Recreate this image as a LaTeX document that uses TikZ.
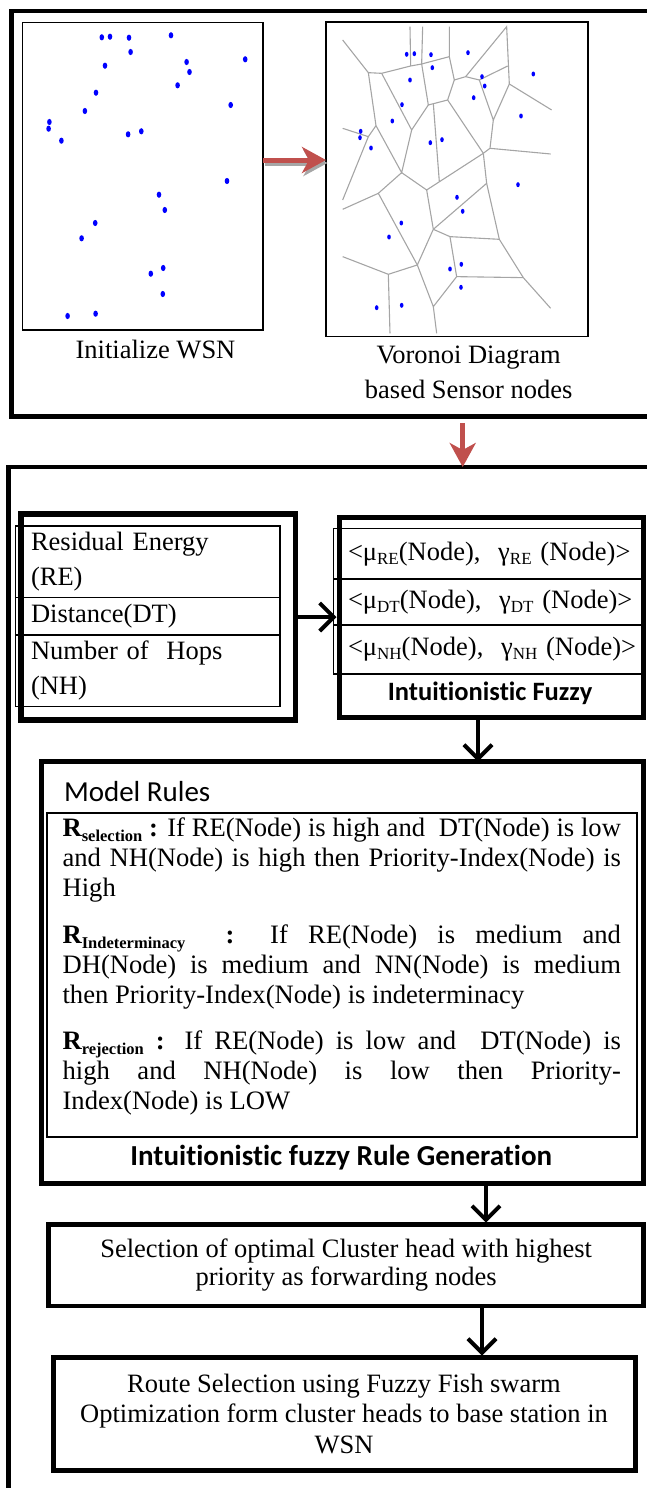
\documentclass[tikz,border=0pt]{standalone}
\usepackage{fontspec}
\setmainfont{Liberation Serif}
\newfontfamily\calibri[Ligatures=NoCommon]{Carlito}
\usetikzlibrary{arrows.meta}

\definecolor{arrowred}{RGB}{192,80,77}
\definecolor{sensorblue}{RGB}{0,0,255}
\definecolor{cellgray}{RGB}{165,165,165}

\newcommand{\lowsub}[1]{\raisebox{-4pt}{\fontsize{17}{17}\selectfont #1}}
\newcommand{\rulename}[1]{\textbf{R\raisebox{-5pt}{\fontsize{16.5}{17}\selectfont #1}}}

\begin{document}
\begin{tikzpicture}[x=1pt, y=-1pt,
    every node/.style={inner sep=0pt, outer sep=0pt, font=\fontsize{26.5}{35}\selectfont},
    frame/.style={draw, line width=4.7pt},
    imgbox/.style={draw, line width=1.5pt},
    thickbox/.style={draw, line width=5pt},
    cell/.style={draw, line width=1.3pt, minimum width=264.3pt, text width=233.7pt, inner xsep=15.3pt, align=left},
    fzcell/.style={draw, line width=1.3pt, minimum width=310.3pt, text width=281.7pt, inner xsep=14.3pt, align=left},
    redarrow/.style={line width=5pt, arrowred, -{Stealth[length=24pt, width=26pt, inset=7pt]}},
    redshadow/.style={line width=5pt, gray!70, -{Stealth[length=24pt, width=26pt, inset=7pt]}},
    blackarrow/.style={line width=4pt, -{Straight Barb[length=14pt, width=28pt]}}]
    \useasboundingbox (0,0) rectangle (646,1488);

    % Outer frames
    \node[frame, minimum width=640.3pt, minimum height=405.5pt] (top) at (331.85,213.75) {};
    \node[frame, line width=4.5pt, minimum width=642.5pt, minimum height=1030pt] (main) at (329.75,982) {};

    % Sensor field and Voronoi cells
    \node[imgbox, minimum width=240.3pt, minimum height=307.7pt] (wsn) at (142.85,176.15) {};
    \node[imgbox, minimum width=262pt, minimum height=314.7pt] (vor) at (457,179.35) {};
    \node[anchor=base] (wsncap) at (155.5,358) {Initialize WSN};
    \node[anchor=north, align=center] (vorcap) at (468.7,345.5) {Voronoi Diagram\\based Sensor nodes};

    \foreach \x/\y in {101.8/37.3, 110/36.7, 129/37.7, 171/35.3, 130.6/52, 105/65.7, 186.6/62,
        189.5/72, 245.2/59.3, 177.6/85.3, 96/92.7, 84.9/111, 230.7/105, 49.4/122, 48.6/128.7,
        61.4/140.7, 128.1/134.3, 141.3/131.3, 227/181, 159/194.7, 164.8/210, 95.2/223,
        81.6/238.3, 163.2/268, 150.8/273.7, 162.8/294, 95.6/313.7, 67.6/316}
        \fill[sensorblue] (\x,\y) ellipse [x radius=2.3pt, y radius=3.1pt];

    \begin{scope}[shift={(320,10)}, scale=0.3333, cellgray, line width=1.1pt]
        \draw (68,90) -- (145,188) -- (185,190) -- (272,168) -- (305,162) -- (388,140);
        \draw (270,50) -- (272,168);
        \draw (308,50) -- (305,162) -- (325,285) -- (383,270) -- (403,210);
        \draw (388,50) -- (388,140) -- (403,210) -- (437,200) -- (560,50) -- (568,222) -- (695,300);
        \draw (437,200) -- (478,210) -- (563,168);
        \draw (478,210) -- (520,330) -- (568,222);
        \draw (185,190) -- (275,360) -- (325,285);
        \draw (145,188) -- (168,347) -- (245,488) -- (275,360);
        \draw (68,355) -- (145,380) -- (168,347);
        \draw (145,380) -- (68,570);
        \draw (340,281) -- (358,515);
        \draw (383,270) -- (490,430);
        \draw (245,488) -- (320,540) -- (490,430);
        \draw (520,330) -- (510,415) -- (490,430);
        \draw (510,415) -- (692,432);
        \draw (68,598) -- (175,550) -- (245,488);
        \draw (175,550) -- (292,765);
        \draw (68,740) -- (205,793) -- (292,765) -- (340,658) -- (320,540);
        \draw (205,793) -- (210,970);
        \draw (340,658) -- (500,520) -- (490,430);
        \draw (500,520) -- (538,688) -- (610,803) -- (692,895);
        \draw (340,658) -- (390,680) -- (538,688);
        \draw (390,680) -- (410,800) -- (610,803);
        \draw (410,800) -- (340,890) -- (292,765);
        \draw (340,890) -- (350,970);
    \end{scope}

    \foreach \x/\y in {406.7/54.3, 414.3/53.7, 431/54.7, 468/52.7, 432.3/67.7, 410/80, 482/76.7,
        484.7/86, 533.3/74, 473.7/97.7, 402/104.7, 392.3/121, 521/116, 360.7/131.3, 360/137.7,
        371/148, 430.3/142.7, 442/139.7, 518/184.7, 457/197.3, 462.7/211.3, 401.3/223, 389/237,
        461.3/264.3, 450/269, 461/287.3, 401.7/305.3, 376.7/307.7}
        \fill[sensorblue] (\x,\y) ellipse [x radius=1.8pt, y radius=2.5pt];

    % Red arrows
    \coordinate (redx) at (462.7,0);
    \draw[redshadow, transform canvas={xshift=1.5pt, yshift=-3pt}] ([yshift=16.15pt]wsn.east) -- ([yshift=19.35pt]vor.west);
    \draw[redarrow] ([yshift=16.15pt]wsn.east) -- ([yshift=19.35pt]vor.west);
    \draw[redarrow, line width=4.5pt, shorten <=6.5pt] (top.south -| redx) -- (main.north -| redx);

    % Input parameters
    \node[thickbox, line width=5.5pt, minimum width=274.5pt, minimum height=206pt] (inp) at (158.25,617) {};
    \node[cell, minimum height=71.7pt] (re) at (147.85,561.85) {Residual Energy\\(RE)};
    \node[cell, minimum height=37.3pt] (dt) at (147.85,616.35) {Distance(DT)};
    \node[cell, minimum height=71.7pt] (nh) at (147.85,670.85) {Number of\ \ Hops\\(NH)};

    % Intuitionistic fuzzy values
    \node[thickbox, minimum width=303.5pt, minimum height=200pt] (fz) at (491.25,617) {};
    \node[fzcell, minimum height=50.7pt] (mre) at (488.85,553.65) {\mbox{<μ\lowsub{RE}(Node),\ \ γ\lowsub{RE} (Node)>}};
    \node[fzcell, minimum height=46pt] (mdt) at (488.85,602) {\mbox{<μ\lowsub{DT}(Node),\ \ γ\lowsub{DT} (Node)>}};
    \node[fzcell, minimum height=49pt] (mnh) at (488.85,649.5) {\mbox{<μ\lowsub{NH}(Node),\ \ γ\lowsub{NH} (Node)>}};
    \node[anchor=base, font=\calibri\bfseries\fontsize{26.5}{30}\selectfont] (fzlbl) at (490,700) {Intuitionistic Fuzzy};

    \draw[blackarrow, shorten >=3pt] (inp.east) -- (inp.east -| fz.west);

    % Rule generation
    \node[thickbox, minimum width=602pt, minimum height=421.5pt] (rules) at (342.5,972.25) {};
    \node[anchor=base west, font=\calibri\fontsize{29}{30}\selectfont] (mrtitle) at (64,801.7) {Model Rules};
    \node[draw, line width=2pt, minimum width=589.2pt, minimum height=324.6pt] (rulesin) at (342,975) {};
    \node[anchor=north west, text width=558.4pt, align=justify, font=\fontsize{26.6}{30}\selectfont] (rtxt) at (62.6,818.2) {%
        \rulename{selection}\textbf{ :} If RE(Node) is high and\ \ DT(Node) is low\linebreak
        and NH(Node) is high then Priority-Index(Node) is\linebreak
        High\par\vspace{16.3pt}
        \rulename{Indeterminacy}\ \ \textbf{:} If RE(Node) is medium and\linebreak
        DH(Node) is medium and NN(Node) is medium\linebreak
        then Priority-Index(Node) is indeterminacy\par\vspace{16.3pt}
        \rulename{rejection}\textbf{ :} If RE(Node) is low and\ \ DT(Node) is\linebreak
        high and NH(Node) is low then Priority-\linebreak
        Index(Node) is LOW};
    \node[anchor=base, font=\calibri\bfseries\fontsize{29}{30}\selectfont] (rulelbl) at (341.25,1165) {Intuitionistic fuzzy Rule Generation};

    \draw[blackarrow] ([xshift=-13.25pt]fz.south) -- ([xshift=-13.25pt]fz.south |- rules.north);

    % Cluster head and route selection
    \node[thickbox, line width=4.5pt, minimum width=594.8pt, minimum height=81.3pt, align=center, font=\fontsize{26.5}{28.3}\selectfont] (sel) at (346.1,1265.35) {Selection of optimal Cluster head with highest\\priority as forwarding nodes};
    \node[thickbox, minimum width=582pt, minimum height=112.5pt, align=center, font=\fontsize{26.5}{30.5}\selectfont] (route) at (344,1413.75) {Route Selection using Fuzzy Fish swarm\\Optimization form cluster heads to base station in\\WSN};

    \draw[blackarrow, shorten >=2pt] ([xshift=143.5pt]rules.south) -- ([xshift=143.5pt]rules.south |- sel.north);
    \draw[blackarrow, shorten >=2pt] ([xshift=135.9pt]sel.south) -- ([xshift=135.9pt]sel.south |- route.north);
\end{tikzpicture}
\end{document}
